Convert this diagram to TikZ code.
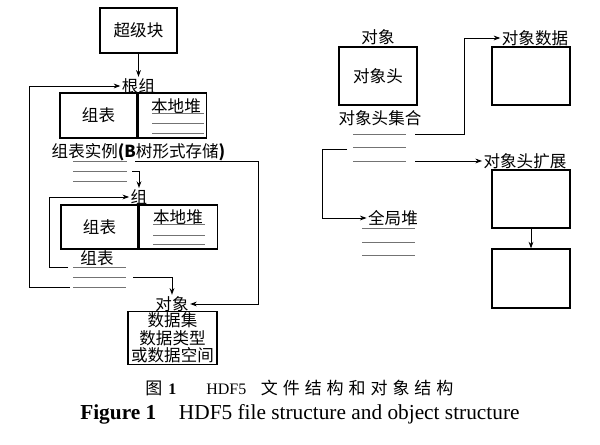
\documentclass[tikz,border=0pt]{standalone}
\usepackage{fontspec}
\setmainfont{Liberation Serif}
\newfontfamily\cjk{Noto Sans CJK SC}
\newfontfamily\cjkcap[LetterSpace=29]{Noto Sans CJK SC}
\usetikzlibrary{arrows.meta}

\begin{document}
\begin{tikzpicture}[x=0.75pt,y=0.75pt,yscale=-1,xscale=1,
  box/.style={draw, line width=0.9pt, inner sep=0pt},
  lbl/.style={font=\cjk\fontsize{12.4}{13.1}\selectfont, inner sep=1pt},
  arr/.style={-{Stealth[length=5pt,width=3.6pt]}, line width=0.7pt},
  lst/.style={draw=black!55, line width=0.6pt}]
\useasboundingbox (0,0) rectangle (600,445);

% Text Node
\draw (138.5,30.5) node [box, lbl, minimum width=57.75pt, minimum height=33.75pt] (sb) {超级块};
% Text Node
\draw (138.5,86) node [lbl] (root) {根组};
% Text Node
\draw (98.5,115.5) node [box, lbl, minimum width=57.75pt, minimum height=33.75pt] (rtab) {组表};
% Text Node
\draw (rtab.east) node [box, anchor=west, minimum width=51pt, minimum height=33.75pt] (rheap) {};
% Text Node
\draw (176,106) node [lbl] (rhl) {本地堆};
% Text Node
\draw (138.5,152) node [lbl] (gi) {组表实例\textbf{(B}树形式存储\textbf{)}};
% Text Node
\draw (139,197) node [lbl] (grp) {组};
% Text Node
\draw (99.5,227) node [box, lbl, minimum width=57.75pt, minimum height=33pt] (gtab) {组表};
% Text Node
\draw (gtab.east) node [box, anchor=west, minimum width=58.5pt, minimum height=33pt] (gheap) {};
% Text Node
\draw (178,217.5) node [lbl] (ghl) {本地堆};
% Text Node
\draw (97,258) node [lbl] (gt) {组表};
% Text Node
\draw (172,304) node [lbl] (obj) {对象};
% Text Node
\draw (172.5,338) node [box, lbl, align=center, minimum width=66.75pt, minimum height=39pt] (objbox) {数据集\\数据类型\\或数据空间};
% Text Node
\draw (378,37) node [lbl] (ohobj) {对象};
% Text Node
\draw (378,76) node [box, lbl, minimum width=58.5pt, minimum height=43.5pt] (oh) {对象头};
% Text Node
\draw (380,118) node [lbl] (ohs) {对象头集合};
% Text Node
\draw (535,38) node [lbl] (odl) {对象数据};
% Text Node
\draw (531,76) node [box, minimum width=58.5pt, minimum height=43.5pt] (od) {};
% Text Node
\draw (525,161) node [lbl] (oel) {对象头扩展};
% Text Node
\draw (531,199) node [box, minimum width=58.5pt, minimum height=43.5pt] (ext1) {};
% Text Node
\draw (531,278.5) node [box, minimum width=58.5pt, minimum height=44.25pt] (ext2) {};
% Text Node
\draw (393,218) node [lbl] (gh) {全局堆};
% Text Node
\draw (145,388) node [anchor=west, inner sep=0pt, font=\fontsize{12}{14}\selectfont] (capzh) {{\cjk\fontsize{12.75}{14}\selectfont 图}\hspace{4.5pt}\textbf{1}\hspace{22.5pt}HDF5\hspace{11pt}{\cjkcap\fontsize{12.75}{14}\selectfont 文件结构和对象结构}};
% Text Node
\draw (80,414) node [anchor=west, inner sep=0pt, font=\fontsize{16}{18}\selectfont] (capen) {\textbf{Figure 1}\hspace{17pt}HDF5 file structure and object structure};

% Coordinates
\coordinate (gil1) at (135,161);
\coordinate (gil2) at (132,171);
\coordinate (g2l1) at (68,267);
\coordinate (g2l2) at (133,277);
\coordinate (g2l3) at (70,287);
\coordinate (ohl1) at (415,134);
\coordinate (ohl2) at (347,149);
\coordinate (ohl3) at (415,161);

% Lists
\draw [lst] (152,113) -- (204,113) (152,123) -- (204,123) (152,133) -- (204,133);
\draw [lst] (73,161) -- (127,161) (73,171) -- (127,171) (73,181) -- (127,181);
\draw [lst] (153,224) -- (205,224) (153,235) -- (205,235) (153,244) -- (205,244);
\draw [lst] (73,267) -- (126,267) (73,277) -- (126,277) (73,287) -- (126,287);
\draw [lst] (353,134) -- (406,134) (353,147) -- (406,147) (353,161) -- (406,161);
\draw [lst] (362,228) -- (415,228) (362,242) -- (415,242) (362,255) -- (415,255);

% Connection
\draw [arr] (sb.south) -- (root.north);
% Connection
\draw [arr] (g2l3) -- ++(-41,0) |- (root.west);
% Connection
\draw [arr] (gil1) -- ++(123,0) |- (obj.east);
% Connection
\draw [arr] (gil2) -| (grp.north);
% Connection
\draw [arr] (g2l1) -- ++(-19,0) |- (grp.west);
% Connection
\draw [arr] (g2l2) -| (obj.north);
% Connection
\draw [arr] (ohl1) -- ++(49,0) |- (odl.west);
% Connection
\draw [arr] (ohl3) -- (oel.west);
% Connection
\draw [arr] (ohl2) -- ++(-25,0) |- (gh.west);
% Connection
\draw [arr] (ext1) -- (ext2);

\end{tikzpicture}
\end{document}
